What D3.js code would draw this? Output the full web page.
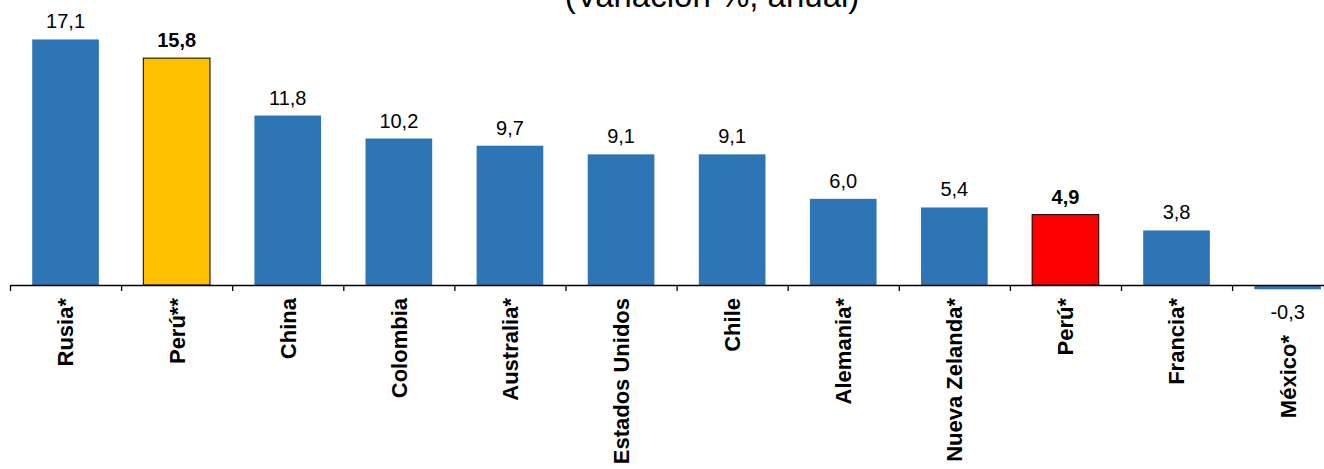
<!DOCTYPE html>
<html><head><meta charset="utf-8">
<script src="https://cdn.jsdelivr.net/npm/d3@7"></script>
<style>
html,body{margin:0;padding:0;background:#fff;overflow:hidden;}
text{font-family:"Liberation Sans",Arial,sans-serif;}
</style></head>
<body>
<svg id="chart" width="1324" height="469"></svg>
<script>
const categories = ["Rusia*","Perú**","China","Colombia","Australia*","Estados Unidos","Chile","Alemania*","Nueva Zelanda*","Perú*","Francia*","México*"];
const values = [17.1,15.8,11.8,10.2,9.7,9.1,9.1,6.0,5.4,4.9,3.8,-0.3];
const highlight = ["normal","gold","normal","normal","normal","normal","normal","normal","normal","red","normal","normal"];
const titleText = "(Variación %, anual)";

const colors = {normal:"#2E75B6", gold:"#FFC000", red:"#FF0000"};
const svg = d3.select("#chart");
const x0 = 10, step = 111.1, n = categories.length;
const x = d3.scaleBand().domain(categories).range([x0, x0 + step*n]).paddingInner(0.4).paddingOuter(0.2);
const pxPerUnit = 14.36, y0 = 285;
const y = d3.scaleLinear().domain([-2, 18]).range([y0 + 2*pxPerUnit, y0 - 18*pxPerUnit]);
const fmt = v => d3.format(".1f")(v).replace(".", ",").replace("\u2212", "-");

svg.append("text").attr("x", 712).attr("y", 7).attr("text-anchor","middle")
  .attr("font-size", 33).attr("fill","#000").text(titleText);

const data = categories.map((c,i)=>({c, v:values[i], h:highlight[i]}));

svg.selectAll("rect.bar").data(data).enter().append("rect")
  .attr("class","bar")
  .attr("x", d=>x(d.c)).attr("width", x.bandwidth())
  .attr("y", d=>Math.min(y(d.v), y(0))).attr("height", d=>Math.abs(y(d.v)-y(0)))
  .attr("fill", d=>colors[d.h])
  .attr("stroke", d=>d.h==="normal" ? "none" : "#000").attr("stroke-width", 1);

// axis with ticks at band boundaries
const bx = d3.scaleLinear().domain([0, n]).range([x0, x0 + step*n]);
const axis = svg.append("g").attr("transform", `translate(0,${y(0)})`)
  .call(d3.axisBottom(bx).tickValues(d3.range(n+1)).tickFormat("").tickSizeInner(6).tickSizeOuter(0));
axis.select(".domain").attr("stroke","#000").attr("stroke-width",1.3);
axis.selectAll(".tick line").attr("stroke","#000").attr("stroke-width",1.3);

svg.selectAll("text.val").data(data).enter().append("text")
  .attr("class","val")
  .attr("x", d=>x(d.c)+x.bandwidth()/2)
  .attr("y", d=> d.v>=0 ? y(d.v)-11 : y(d.v)+30)
  .attr("text-anchor","middle").attr("font-size",20)
  .attr("font-weight", d=>d.h==="normal" ? "normal" : "bold")
  .attr("fill","#000").text(d=>fmt(d.v));

svg.selectAll("text.cat").data(data).enter().append("text")
  .attr("class","cat")
  .attr("transform", d=>`translate(${x(d.c)+x.bandwidth()/2},${(d.v<0 ? 335 : 298)}) rotate(-90)`)
  .attr("dy","0.36em")
  .attr("text-anchor","end").attr("font-size",22).attr("font-weight","bold")
  .attr("fill","#000").text(d=>d.c);
</script>
</body></html>
